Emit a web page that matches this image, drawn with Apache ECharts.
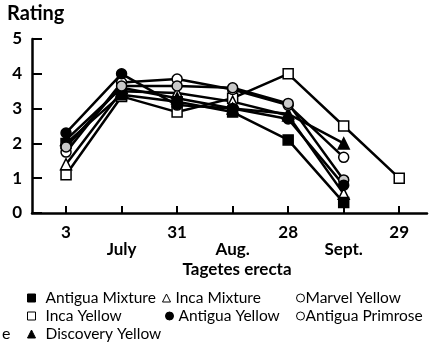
<!DOCTYPE html>
<html><head><meta charset="utf-8">
<script src="https://cdn.jsdelivr.net/npm/echarts@6/dist/echarts.min.js"></script>
<style>html,body{margin:0;padding:0;background:#fff}#c{width:436px;height:342px}</style>
</head><body><div id="c"></div>
<script>
var xPositions = [0, 1, 2, 3, 4, 5, 6];
var xTickLabels = ['3', '\nJuly', '31', '\nAug.', '28', '\nSept.', '29'];
var yTicks = [0, 1, 2, 3, 4, 5];

var antiguaMixture  = [2.0, 3.4, 3.2, 2.9, 2.1, 0.3];
var incaMixture     = [1.4, 3.5, 3.45, 3.2, 2.8, 0.55];
var marvelYellow    = [1.75, 3.75, 3.85, 3.55, 3.1, 1.6];
var incaYellow      = [1.1, 3.35, 2.9, 3.3, 4.0, 2.5, 1.0];
var antiguaYellow   = [2.3, 4.0, 3.1, 3.0, 2.7, 0.8];
var antiguaPrimrose = [1.9, 3.65, 3.65, 3.6, 3.15, 0.95];
var discoveryYellow = [2.1, 3.6, 3.3, 3.0, 2.85, 2.0];

var FONT = 'Lato';
function pairs(arr){ return arr.map(function(v,i){ return [xPositions[i], v]; }); }
function mk(name, arr, symbol, fill){
  return {
    name: name, type: 'line', data: pairs(arr), symbol: symbol, symbolSize: symbol==='triangle'?11:10,
    lineStyle: {color: '#000', width: 2.5},
    itemStyle: {color: fill, borderColor: '#000', borderWidth: 1.5},
    emphasis: {disabled: true}, animation: false, z: 2
  };
}
var series = [
  mk('Inca Yellow', incaYellow, 'rect', '#fff'),
  mk('Inca Mixture', incaMixture, 'triangle', '#fff'),
  mk('Antigua Mixture', antiguaMixture, 'rect', '#000'),
  mk('Discovery Yellow', discoveryYellow, 'triangle', '#000'),
  mk('Marvel Yellow', marvelYellow, 'circle', '#fff'),
  mk('Antigua Primrose', antiguaPrimrose, 'circle', '#c9c9c9'),
  mk('Antigua Yellow', antiguaYellow, 'circle', '#000')
];

function leg(name, icon, fill, left, top, gap){
  return {
    data: [{name: name, icon: icon, itemStyle: {color: fill, borderColor: '#000', borderWidth: 1}}],
    left: left, top: top, itemWidth: 8, itemHeight: 8, padding: 0,
    textStyle: {fontFamily: FONT, fontSize: 15.5, color: '#000', padding: [0,0,0,gap]},
    selectedMode: false
  };
}

var chart = echarts.init(document.getElementById('c'));
chart.setOption({
  animation: false,
  backgroundColor: '#fff',
  title: [
    {text: 'Rating', left: 7, top: 4, padding: 0, textStyle: {fontFamily: FONT, fontSize: 20, fontWeight: 'bold', color: '#000'}},
    {text: 'Tagetes erecta', left: 237, textAlign: 'center', top: 261, padding: 0, textStyle: {fontFamily: FONT, fontSize: 17, fontWeight: 'bold', color: '#000'}}
  ],
  graphic: [{type: 'text', left: 2, top: 326, style: {text: 'e', font: '16px Lato', fill: '#000'}}],
  legend: [
    leg('Antigua Mixture', 'rect', '#000', 27, 290, 5),
    leg('Inca Mixture', 'triangle', '#fff', 162, 290, 0),
    leg('Marvel Yellow', 'circle', '#fff', 296, 290, -4),
    leg('Inca Yellow', 'rect', '#fff', 27, 308, 5),
    leg('Antigua Yellow', 'circle', '#000', 165, 308, 0),
    leg('Antigua Primrose', 'circle', '#fff', 296, 308, -4),
    leg('Discovery Yellow', 'triangle', '#000', 27, 326, 5)
  ],
  grid: {left: 32, right: 9, top: 39, bottom: 129, containLabel: false},
  xAxis: {
    type: 'value', min: -0.613, max: 6.5,
    axisLine: {onZero: false, lineStyle: {color: '#000', width: 2.5}},
    axisTick: {show: true, inside: true, length: 7, customValues: xPositions, lineStyle: {color: '#000', width: 2}},
    axisLabel: {customValues: xPositions, margin: 11, fontFamily: FONT, fontSize: 17, fontWeight: 'bold', color: '#000', lineHeight: 17,
      formatter: function(v){ var i = Math.round(v); return xTickLabels[i] || ''; }},
    splitLine: {show: false}
  },
  yAxis: {
    type: 'value', min: 0, max: 5, interval: 1,
    axisLine: {show: true, onZero: false, lineStyle: {color: '#000', width: 2.5}},
    axisTick: {show: true, inside: true, length: 10, lineStyle: {color: '#000', width: 2}},
    axisLabel: {margin: 10, fontFamily: FONT, fontSize: 17, fontWeight: 'bold', color: '#000',
      formatter: function(v){ return yTicks.indexOf(v) >= 0 ? String(v) : ''; }},
    splitLine: {show: false}
  },
  series: series
});
</script></body></html>
